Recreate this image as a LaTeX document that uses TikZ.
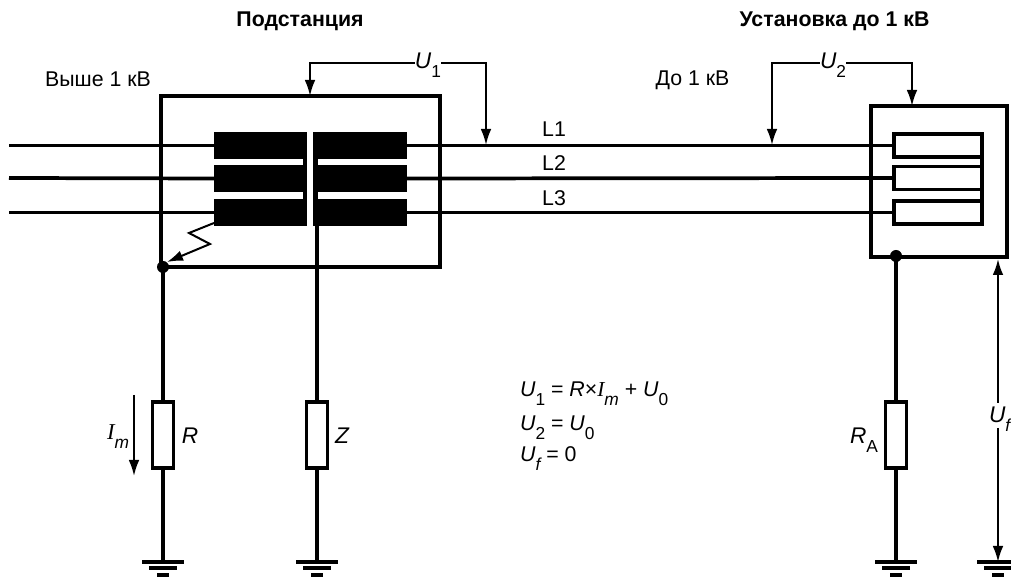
\documentclass[tikz,border=0pt]{standalone}
\usepackage{fontspec}
\setmainfont{Liberation Sans}
\newfontfamily\serifit[Scale=1]{Liberation Serif}
\usetikzlibrary{arrows.meta}
\newcommand{\pxu}{0.75pt}
\newcommand{\lowr}[1]{\raisebox{-0.75ex}{\fontsize{13}{14}\selectfont\upshape #1}}
\newcommand{\lowi}[1]{\raisebox{-0.75ex}{\fontsize{13}{14}\selectfont\itshape #1}}
\newcommand{\UU}[1]{\textit{U}\lowr{#1}}
\newcommand{\Imm}{{\serifit\itshape I}\lowi{m}}
\tikzset{
  x=0.75pt,y=-0.75pt,
  bus/.style={line width=2.8pt},
  frame/.style={draw,line width=2.9pt,inner sep=0,outer sep=0,anchor=north west},
  coil/.style={fill=black,inner sep=0,outer sep=0,anchor=north west,minimum width=93*\pxu,minimum height=27*\pxu},
  spine/.style={fill=black,inner sep=0,outer sep=0,anchor=north west},
  load/.style={draw,line width=2.8pt,fill=white,inner sep=0,outer sep=0,minimum width=88*\pxu,minimum height=23*\pxu,anchor=north west},
  resistor/.style={draw,line width=2.9pt,fill=white,inner sep=0,outer sep=0,minimum width=21*\pxu,minimum height=66*\pxu},
  thin/.style={line width=1.5pt,-{Latex[length=12pt,width=8pt]}},
  label/.style={inner sep=0,outer sep=0,font=\fontsize{16}{18}\selectfont},
  titlelabel/.style={inner sep=0,outer sep=0,font=\fontsize{16}{18}\selectfont\bfseries},
  sym/.style={inner sep=0,outer sep=0,font=\fontsize{17}{20}\selectfont\itshape},
  eq/.style={inner sep=0,outer sep=0,anchor=base west,font=\fontsize{16}{20}\selectfont},
  dot/.style={circle,fill=black,inner sep=0,outer sep=0,minimum size=12*\pxu},
  gbar/.style={line width=2.8pt}
}
\newcommand{\groundsym}[1]{%
  \draw[gbar] ([xshift=-15.5pt]#1) -- ([xshift=15.5pt]#1);
  \draw[gbar] ([xshift=-10.5pt,yshift=-4.7pt]#1) -- ([xshift=10.5pt,yshift=-4.7pt]#1);
  \draw[gbar] ([xshift=-4.5pt,yshift=-9.8pt]#1) -- ([xshift=4.5pt,yshift=-9.8pt]#1);
}
\begin{document}
\begin{tikzpicture}
\useasboundingbox (0,0) rectangle (1011,580);
% titles
\node[titlelabel] (t1) at (300,21) {Подстанция};
\node[titlelabel] (t2) at (834.5,21) {Установка до 1 кВ};
\node[label] (hv) at (98,79) {Выше 1 кВ};
\node[label] (lv) at (692.5,80) {До 1 кВ};
% free ends
\coordinate (inA) at (9,145.5);
\coordinate (inB) at (9,178);
\coordinate (inC) at (9,212.5);
% frames
\node[frame,minimum width=279*\pxu,minimum height=171*\pxu] (sub) at (161,96) {};
\node[frame,minimum width=136*\pxu,minimum height=151*\pxu] (inst) at (871,106) {};
% coils
\node[coil] (la) at (214,132) {};
\node[coil] (lb) at (214,165) {};
\node[coil] (lc) at (214,199) {};
\node[coil] (ra) at (314,132) {};
\node[coil] (rb) at (314,165) {};
\node[coil] (rc) at (314,199) {};
\node[spine,minimum width=4*\pxu,minimum height=94*\pxu] (sl) at (303,132) {};
\node[spine,minimum width=5*\pxu,minimum height=94*\pxu] (sr) at (313,132) {};
% loads
\node[load] (ma) at (894,134) {};
\node[load] (mb) at (894,166.5) {};
\node[load] (mc) at (894,201) {};
\draw[bus] (ma.north east) -- (mc.south east);
% phase wires
\draw[bus] (inA) -- (la.west);
\draw[bus] (inB) -- (lb.west);
\draw[bus] (inC) -- (lc.west);
\draw[bus] (ra.east) -- (ma.west);
\draw[bus] (rb.east) -- (mb.west);
\draw[bus] (rc.east) -- (mc.west);
\node[label] (L1) at (554,129) {L1};
\node[label] (L2) at (554,163) {L2};
\node[label] (L3) at (554,198) {L3};
% resistors
\node[resistor] (R) at (163,435) {};
\node[resistor] (Z) at (317,435) {};
\node[resistor] (RA) at (896,435) {};
\node[dot] (d1) at (163,267) {};
\node[dot] (d2) at (896,256) {};
\coordinate (g1) at (163,562);
\coordinate (g2) at (317,562);
\coordinate (g3) at (896,562);
\coordinate (g4) at (998,562);
\draw[bus] (d1.center) -- (R.north);
\draw[bus] (R.south) -- (g1);
\draw[bus] (sr.south -| Z.north) -- (Z.north);
\draw[bus] (Z.south) -- (g2);
\draw[bus] (d2.center) -- (RA.north);
\draw[bus] (RA.south) -- (g3);
\groundsym{g1}
\groundsym{g2}
\groundsym{g3}
\groundsym{g4}
% fault
\coordinate (f0) at (214,223);
\coordinate (f1) at (189,233);
\coordinate (f2) at (210,244);
\coordinate (f3) at (167,262);
\draw[thin] (f0) -- (f1) -- (f2) -- (f3);
% U1
\node[sym] (U1) at (428,65) {\UU{1}};
\coordinate (u1a) at (310,63);
\coordinate (u1b) at (486,63);
\coordinate (u1c) at (486,145);
\draw[thin] (U1.west |- u1a) -- (u1a) -- (u1a |- sub.north);
\draw[thin] (U1.east |- u1b) -- (u1b) -- (u1c);
% U2
\node[sym] (U2) at (833,65) {\UU{2}};
\coordinate (u2a) at (772,63);
\coordinate (u2b) at (912,63);
\coordinate (u2c) at (772,145);
\draw[thin] (U2.west |- u2a) -- (u2a) -- (u2c);
\draw[thin] (U2.east |- u2b) -- (u2b) -- (u2b |- inst.north);
% Uf
\node[sym,anchor=west] (Uf) at (989,419) {\UU{\itshape f}};
\coordinate (ufa) at (998,403);
\coordinate (ufb) at (998,428);
\draw[thin] (ufa) -- (998,259);
\draw[thin] (ufb) -- (g4);
% Im
\coordinate (ia) at (134,395);
\coordinate (ib) at (134,476);
\draw[thin] (ia) -- (ib);
\node[sym] (Im) at (118,437) {\Imm};
\node[sym] (Rl) at (190,436) {R};
\node[sym] (Zl) at (342,436) {Z};
\node[sym] (Ral) at (864,440) {R\lowr{A}};
% equations
\node[eq] (e1) at (520,397) {\UU{1} = \textit{R}×\Imm{} + \UU{0}};
\node[eq] (e2) at (520,431) {\UU{2} = \UU{0}};
\node[eq] (e3) at (520,462) {\UU{\itshape f} = 0};
\end{tikzpicture}
\end{document}
